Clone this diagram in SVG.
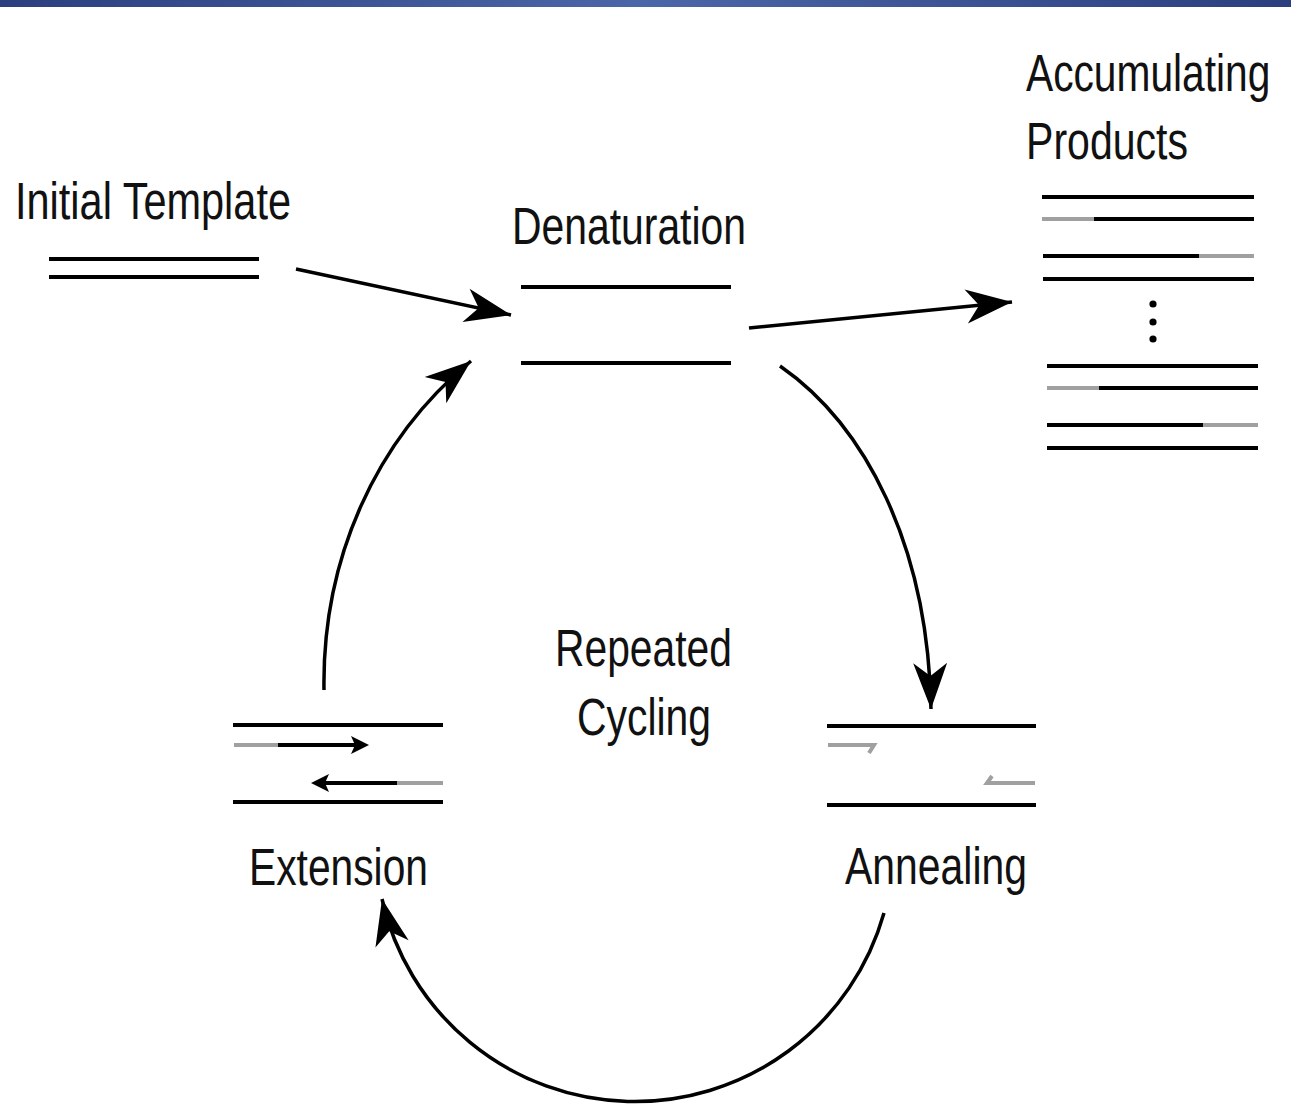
<svg xmlns="http://www.w3.org/2000/svg" width="1291" height="1114" viewBox="0 0 1291 1114">
<defs>
<linearGradient id="bar" x1="0" y1="0" x2="1" y2="0">
<stop offset="0" stop-color="#2b3f7e"/>
<stop offset="0.5" stop-color="#4b66a9"/>
<stop offset="1" stop-color="#2b3f7e"/>
</linearGradient>
<marker id="ah" markerUnits="userSpaceOnUse" viewBox="-48 -18 50 36" refX="0" refY="0" markerWidth="50" markerHeight="36" orient="auto">
<path d="M0,0 L-46,-17 L-33,0 L-46,17 Z" fill="#000"/>
</marker>
</defs>
<style>
.t{font-family:"Liberation Sans Narrow","Liberation Sans",Arial,sans-serif;font-size:51px;fill:#111}
.k{stroke:#000;stroke-width:4;fill:none}
.g{stroke:#a0a0a0;stroke-width:4;fill:none}
.c{stroke:#000;stroke-width:3.5;fill:none;marker-end:url(#ah)}
</style>
<rect x="0" y="0" width="1291" height="1114" fill="#fff"/>
<rect x="0" y="0" width="1291" height="7" fill="url(#bar)"/>

<g id="initial-template">
<text class="t" x="15" y="219" textLength="276" lengthAdjust="spacingAndGlyphs">Initial Template</text>
<line class="k" x1="49" y1="259" x2="259" y2="259"/>
<line class="k" x1="49" y1="277" x2="259" y2="277"/>
</g>

<g id="denaturation">
<text class="t" x="512" y="244" textLength="234" lengthAdjust="spacingAndGlyphs">Denaturation</text>
<line class="k" x1="521" y1="287" x2="731" y2="287"/>
<line class="k" x1="521" y1="363" x2="731" y2="363"/>
</g>

<g id="accumulating-products">
<text class="t" transform="translate(1026,91) scale(0.82,1)" x="0" y="0" textLength="298" lengthAdjust="spacingAndGlyphs">Accumulating</text>
<text class="t" x="1026" y="159" textLength="162" lengthAdjust="spacingAndGlyphs">Products</text>
<line class="k" x1="1042" y1="197" x2="1254" y2="197"/>
<line class="g" x1="1042" y1="219" x2="1094" y2="219"/>
<line class="k" x1="1094" y1="219" x2="1254" y2="219"/>
<line class="k" x1="1043" y1="256" x2="1199" y2="256"/>
<line class="g" x1="1199" y1="256" x2="1254" y2="256"/>
<line class="k" x1="1043" y1="279" x2="1254" y2="279"/>
<circle cx="1153" cy="304" r="3.6" fill="#000"/>
<circle cx="1153" cy="322" r="3.6" fill="#000"/>
<circle cx="1153" cy="339" r="3.6" fill="#000"/>
<line class="k" x1="1047" y1="366" x2="1258" y2="366"/>
<line class="g" x1="1047" y1="388" x2="1099" y2="388"/>
<line class="k" x1="1099" y1="388" x2="1258" y2="388"/>
<line class="k" x1="1047" y1="425" x2="1203" y2="425"/>
<line class="g" x1="1203" y1="425" x2="1258" y2="425"/>
<line class="k" x1="1047" y1="448" x2="1258" y2="448"/>
</g>

<g id="repeated-cycling">
<text class="t" x="555" y="666" textLength="177" lengthAdjust="spacingAndGlyphs">Repeated</text>
<text class="t" x="577" y="735" textLength="134" lengthAdjust="spacingAndGlyphs">Cycling</text>
</g>

<g id="extension">
<line class="k" x1="233" y1="725" x2="443" y2="725"/>
<line class="g" x1="234" y1="745" x2="278" y2="745"/>
<line class="k" x1="278" y1="745" x2="356" y2="745"/>
<path d="M369,745 L351,736 L355,745 L351,754 Z" fill="#000"/>
<path d="M311,783 L329,774 L325,783 L329,792 Z" fill="#000"/>
<line class="k" x1="324" y1="783" x2="397" y2="783"/>
<line class="g" x1="397" y1="783" x2="443" y2="783"/>
<line class="k" x1="233" y1="802" x2="443" y2="802"/>
<text class="t" x="249" y="885" textLength="179" lengthAdjust="spacingAndGlyphs">Extension</text>
</g>

<g id="annealing">
<line class="k" x1="827" y1="726" x2="1036" y2="726"/>
<path class="g" d="M828,745 L874,745 L869,753"/>
<path class="g" d="M1035,783 L987,783 L992,776"/>
<line class="k" x1="827" y1="805" x2="1036" y2="805"/>
<text class="t" x="845" y="884" textLength="182" lengthAdjust="spacingAndGlyphs">Annealing</text>
</g>

<g id="connectors">
<path class="c" d="M296,269 L511,315"/>
<path class="c" d="M749,328 L1012,302"/>
<path class="c" d="M780,366 C865,425 928,545 931,709"/>
<path class="c" d="M884,913 A259,259 0 0 1 382,899"/>
<path class="c" d="M324,690 C322,560 375,440 471,361"/>
</g>
</svg>
